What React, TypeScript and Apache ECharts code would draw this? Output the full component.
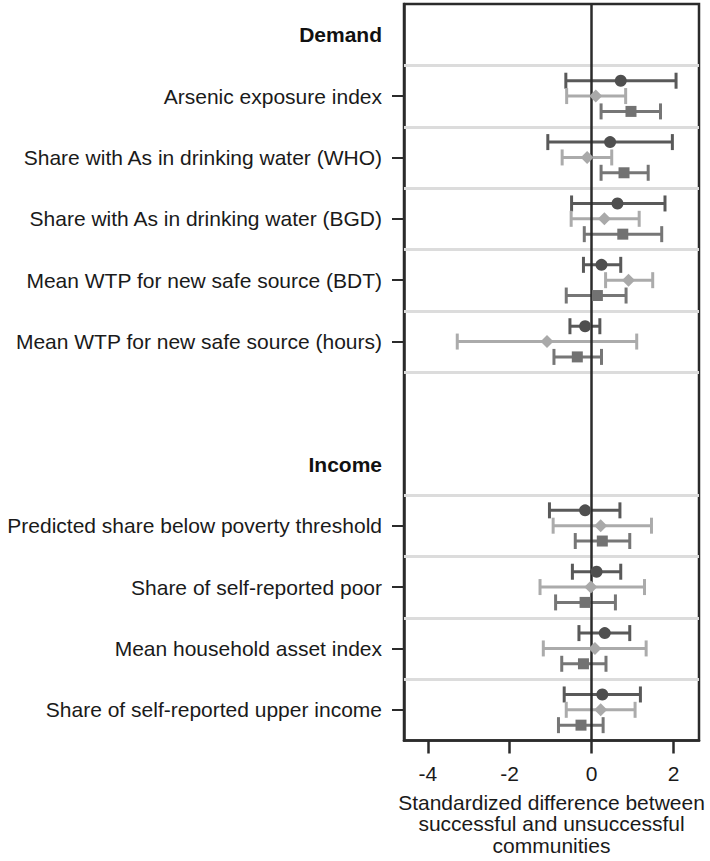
import React, { useEffect, useRef } from "react";
import * as echarts from "echarts";

// Row labels and their slot positions (slot centre on a 0..12 scale, top to bottom)
const headers = ["Demand", "Income"];
const headerPos = [0.5, 7.5];
const rowLabels = [
  "Arsenic exposure index",
  "Share with As in drinking water (WHO)",
  "Share with As in drinking water (BGD)",
  "Mean WTP for new safe source (BDT)",
  "Mean WTP for new safe source (hours)",
  "Predicted share below poverty threshold",
  "Share of self-reported poor",
  "Mean household asset index",
  "Share of self-reported upper income",
];
const rowPos = [1.5, 2.5, 3.5, 4.5, 5.5, 8.5, 9.5, 10.5, 11.5];
const separators = [1, 2, 3, 4, 5, 6, 8, 9, 10, 11];
const xTicks = [-4, -2, 0, 2];

// Estimates: [point, low, high] for each row
const seriesA = [
  [0.71, -0.63, 2.06],
  [0.45, -1.07, 1.97],
  [0.63, -0.49, 1.79],
  [0.24, -0.2, 0.71],
  [-0.16, -0.53, 0.2],
  [-0.16, -1.03, 0.69],
  [0.12, -0.47, 0.71],
  [0.32, -0.31, 0.93],
  [0.26, -0.67, 1.19],
];
const seriesB = [
  [0.1, -0.61, 0.83],
  [-0.11, -0.72, 0.49],
  [0.31, -0.5, 1.16],
  [0.9, 0.34, 1.49],
  [-1.09, -3.28, 1.1],
  [0.22, -0.94, 1.46],
  [-0.02, -1.26, 1.29],
  [0.08, -1.18, 1.33],
  [0.22, -0.62, 1.06],
];
const seriesC = [
  [0.96, 0.23, 1.68],
  [0.79, 0.23, 1.38],
  [0.76, -0.18, 1.71],
  [0.14, -0.62, 0.84],
  [-0.35, -0.92, 0.24],
  [0.26, -0.4, 0.93],
  [-0.16, -0.88, 0.58],
  [-0.2, -0.73, 0.35],
  [-0.26, -0.81, 0.28],
];

const FONT = "'Liberation Sans', Arial, Helvetica, sans-serif";

export default function App() {
  const ref = useRef<HTMLDivElement>(null);
  useEffect(() => {
    if (!ref.current) return;
    const chart = echarts.init(ref.current, null, { renderer: "svg" });

    const labelMap: Record<string, string> = {};
    headers.forEach((h, i) => (labelMap[String(headerPos[i])] = "{b|" + h + "}"));
    rowLabels.forEach((r, i) => (labelMap[String(rowPos[i])] = r));

    const defs = [
      { data: seriesA, off: -0.25, color: "#4f4f4f", line: "#595959", symbol: "circle", size: 12 },
      { data: seriesB, off: 0, color: "#a9a9a9", line: "#ababab", symbol: "diamond", size: 13 },
      { data: seriesC, off: 0.25, color: "#727272", line: "#767676", symbol: "rect", size: 11 },
    ];

    const series: any[] = [];
    series.push({
      type: "line",
      data: [],
      silent: true,
      markLine: {
        silent: true,
        symbol: "none",
        label: { show: false },
        animation: false,
        data: separators.map((v) => ({ yAxis: v, lineStyle: { color: "#dcdcdc", width: 3, type: "solid" } })),
      },
    });
    defs.forEach((d) => {
      series.push({
        type: "custom",
        data: d.data.map((v, i) => [v[1], v[2], rowPos[i] + d.off]),
        renderItem: (params: any, api: any) => {
          const lo = api.coord([api.value(0), api.value(2)]);
          const hi = api.coord([api.value(1), api.value(2)]);
          const h = 8;
          const style = { stroke: d.line, lineWidth: 3 };
          return {
            type: "group",
            children: [
              { type: "line", shape: { x1: lo[0], y1: lo[1], x2: hi[0], y2: hi[1] }, style },
              { type: "line", shape: { x1: lo[0], y1: lo[1] - h, x2: lo[0], y2: lo[1] + h }, style },
              { type: "line", shape: { x1: hi[0], y1: hi[1] - h, x2: hi[0], y2: hi[1] + h }, style },
            ],
          };
        },
        silent: true,
        z: 3,
      });
    });
    series.push({
      type: "line",
      data: [],
      silent: true,
      z: 4,
      markLine: {
        silent: true,
        symbol: "none",
        label: { show: false },
        data: [{ xAxis: 0, lineStyle: { color: "#2b2b2b", width: 2.5, type: "solid" } }],
      },
    });
    defs.forEach((d) => {
      series.push({
        type: "scatter",
        data: d.data.map((v, i) => [v[0], rowPos[i] + d.off]),
        symbol: d.symbol,
        symbolSize: d.size,
        itemStyle: { color: d.color, opacity: 1 },
        silent: true,
        z: 5,
      });
    });

    chart.setOption({
      animation: false,
      textStyle: { fontFamily: FONT },
      grid: {
        left: 404,
        right: 11,
        top: 4,
        bottom: 116,
        show: true,
        borderColor: "#2b2b2b",
        borderWidth: 2.5,
        backgroundColor: "transparent",
      },
      xAxis: {
        type: "value",
        min: -4.58,
        max: 2.62,
        axisLine: { show: true, onZero: false, lineStyle: { color: "#2b2b2b", width: 2.5 } },
        axisTick: { show: true, length: 13, customValues: xTicks, lineStyle: { color: "#2b2b2b", width: 2.5 } },
        axisLabel: { customValues: xTicks, fontSize: 21, color: "#1a1a1a", margin: 22, fontFamily: FONT },
        splitLine: { show: false },
        name: "Standardized difference between\nsuccessful and unsuccessful\ncommunities",
        nameLocation: "middle",
        nameGap: 51,
        nameTextStyle: { fontSize: 21, color: "#1a1a1a", lineHeight: 21.5, fontFamily: FONT, align: "center", verticalAlign: "top" },
      },
      yAxis: {
        type: "value",
        inverse: true,
        min: 0,
        max: 12,
        axisLine: { show: true, onZero: false, lineStyle: { color: "#2b2b2b", width: 2.5 } },
        axisTick: { show: true, length: 12, customValues: rowPos, lineStyle: { color: "#2b2b2b", width: 2 } },
        axisLabel: {
          customValues: [...headerPos, ...rowPos],
          fontSize: 21,
          color: "#1a1a1a",
          margin: 22,
          fontFamily: FONT,
          formatter: (v: number) => labelMap[String(v)] || "",
          rich: { b: { fontWeight: "bold", fontSize: 21, color: "#111", fontFamily: FONT } },
        },
        splitLine: { show: false },
      },
      series,
    });
    return () => chart.dispose();
  }, []);
  return <div ref={ref} style={{ width: 710, height: 861, position: "absolute", left: 0, top: 0 }} />;
}
